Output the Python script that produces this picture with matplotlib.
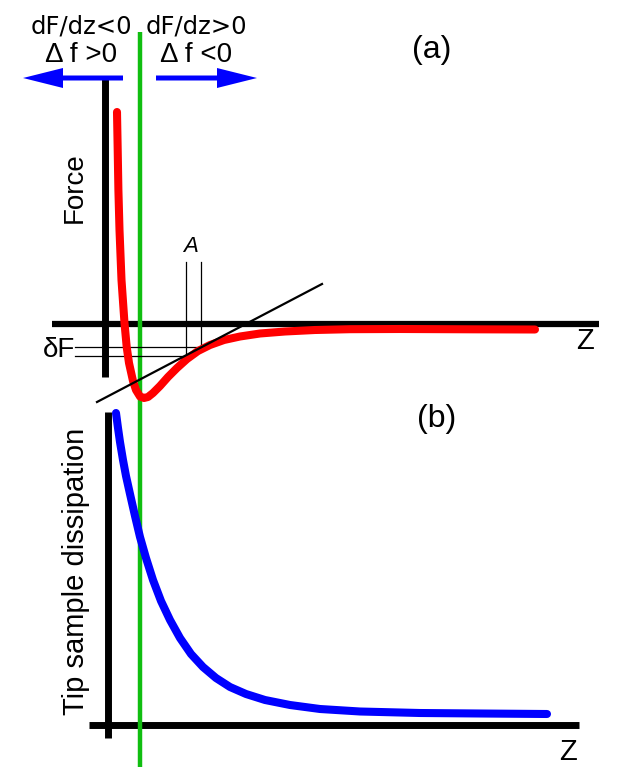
import matplotlib
matplotlib.use("Agg")
import matplotlib.pyplot as plt

plt.rcParams['font.family'] = ['Liberation Sans', 'DejaVu Sans']

# picture coordinates (pixels, y grows downward)
force_z = [117, 117.7, 118.4, 119.5, 121.5, 124.5, 126.7, 129, 133, 136, 140, 144, 148,
           153, 160, 168, 177, 187, 198, 210, 224, 240, 260, 285, 315, 350, 400, 470, 535]
force_f = [112, 150, 190, 230, 280, 323, 347, 363, 381, 390, 396.5, 398, 397,
           393, 386, 377, 368, 359, 351, 345, 340, 336.5, 333.5, 331.5, 330, 329.2, 329, 329.3, 329.5]

diss_z = [116, 118, 120, 123, 126, 130, 135, 140, 146, 153, 161, 170, 180, 191,
          203, 216, 230, 246, 265, 290, 320, 360, 420, 480, 547]
diss_d = [413, 428, 442, 460, 476, 494, 516, 537, 558, 580, 601, 620, 638, 654,
          667, 678, 687, 694, 700, 705, 709, 711.5, 713, 713.5, 714]

tangent_z = [97, 322]
tangent_f = [402, 284]

amp_z = [186, 201]          # the two positions marked A
amp_f = [356, 347]          # force at those positions
delta_f_left = 75

fig = plt.figure(figsize=(6.21, 7.67), dpi=100)
ax = fig.add_axes([0, 0, 1, 1])
ax.set_xlim(0, 621)
ax.set_ylim(767, 0)
ax.axis('off')

# axes of the two panels
ax.plot([105, 105], [76, 377], color='black', lw=5, solid_capstyle='butt', zorder=2)
ax.plot([52, 599], [324, 324], color='black', lw=4.5, solid_capstyle='butt', zorder=2)
ax.plot([108, 108], [412, 738], color='black', lw=5, solid_capstyle='butt', zorder=2)
ax.plot([89, 579], [725, 725], color='black', lw=5, solid_capstyle='butt', zorder=2)

# green separation line
ax.plot([140, 140], [32, 767], color='#10BE10', lw=3.2, solid_capstyle='butt', zorder=3)

# A and delta F construction
for z, f in zip(amp_z, amp_f):
    ax.plot([z, z], [262, f], color='black', lw=0.9, zorder=3)
    ax.plot([delta_f_left, z], [f, f], color='black', lw=0.9, zorder=3)
ax.plot(tangent_z, tangent_f, color='black', lw=1.6, zorder=5)

# curves
ax.plot(force_z, force_f, color='#FF0000', lw=5.8, solid_capstyle='round',
        solid_joinstyle='round', zorder=4)
ax.plot(diss_z, diss_d, color='#0000FF', lw=5.8, solid_capstyle='round',
        solid_joinstyle='round', zorder=4)

# arrows
ax.arrow(123, 78, -100, 0, width=5, head_width=20, head_length=40,
         length_includes_head=True, color='#0000FF', lw=0, zorder=4)
ax.arrow(156, 78, 101, 0, width=5, head_width=20, head_length=40,
         length_includes_head=True, color='#0000FF', lw=0, zorder=4)

# labels
ax.text(81, 26, 'dF/dz<0', fontsize=17.5, family=['DejaVu Sans'], ha='center', va='center')
ax.text(196, 26, 'dF/dz>0', fontsize=17.5, family=['DejaVu Sans'], ha='center', va='center')
ax.text(81, 55, 'Δ f >0', fontsize=20, ha='center', va='center')
ax.text(196, 55, 'Δ f <0', fontsize=20, ha='center', va='center')
ax.text(432, 50, '(a)', fontsize=23, ha='center', va='center')
ax.text(437, 419, '(b)', fontsize=23, ha='center', va='center')
ax.text(585, 341, 'Z', fontsize=21, ha='center', va='center')
ax.text(568, 752, 'Z', fontsize=21, ha='center', va='center')
ax.text(191, 246, 'A', fontsize=16, style='italic', ha='center', va='center')
ax.text(59, 350, 'δF', fontsize=20, ha='center', va='center')
ax.text(75, 188, 'Force', fontsize=20, rotation=90, ha='center', va='center')
ax.text(76, 571, 'Tip sample dissipation', fontsize=21, rotation=90, ha='center', va='center')

fig.savefig('out.png', dpi=100, facecolor='white')
